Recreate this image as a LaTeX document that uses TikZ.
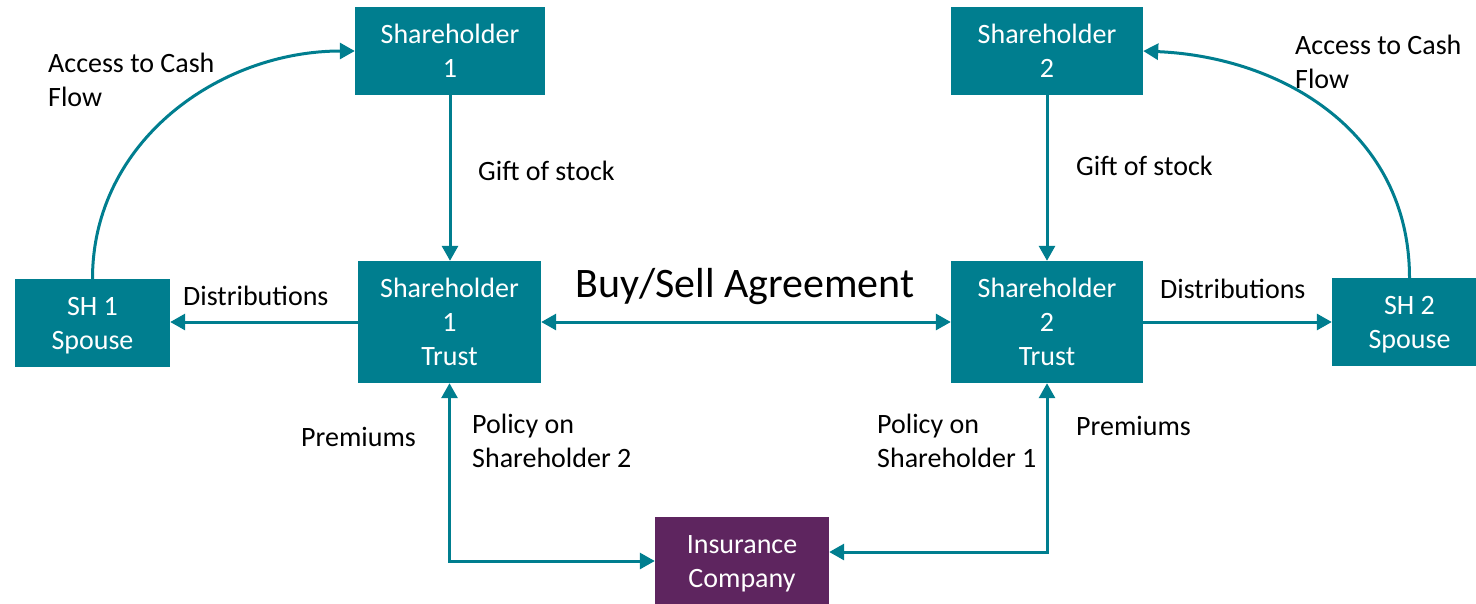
\documentclass[tikz,border=0pt]{standalone}
\usepackage{fontspec}
\setmainfont{Carlito}
\usetikzlibrary{arrows.meta}
\definecolor{tealbox}{RGB}{0,126,143}
\definecolor{plumbox}{RGB}{94,37,95}
% even line box for the text inside the boxes
\newcommand\boxstrut{\rule[-5pt]{0pt}{29pt}}
\begin{document}
\begin{tikzpicture}[x=1pt,y=-1pt,
  boxnode/.style={fill=tealbox, text=white, inner sep=0pt, align=center,
    font=\fontsize{28}{34}\selectfont},
  lbl/.style={anchor=base west, inner sep=0pt, text=black,
    font=\fontsize{28}{34}\selectfont},
  link/.style={draw=tealbox, line width=3pt,
    -{Triangle[length=15pt,width=16pt]}},
  dlink/.style={draw=tealbox, line width=3pt,
    {Triangle[length=15pt,width=16pt]}-{Triangle[length=15pt,width=16pt]}}]
\useasboundingbox (0,0) rectangle (1476,603);
\clip (0,0) rectangle (1476,603);

% boxes
\node[boxnode, minimum width=190pt, minimum height=88pt] (sh1) at (450,51)
  {\boxstrut Shareholder\\\boxstrut 1};
\node[boxnode, minimum width=192pt, minimum height=88pt] (sh2) at (1047,51)
  {\boxstrut Shareholder\\\boxstrut 2};
\node[boxnode, minimum width=155pt, minimum height=88pt] (sp1) at (92.5,323)
  {\boxstrut SH 1\\\boxstrut Spouse};
\node[boxnode, minimum width=183pt, minimum height=122pt] (t1) at (449.5,322)
  {\boxstrut Shareholder\\\boxstrut 1\\\boxstrut Trust};
\node[boxnode, minimum width=192pt, minimum height=122pt] (t2) at (1047,322)
  {\boxstrut Shareholder\\\boxstrut 2\\\boxstrut Trust};
\node[boxnode, minimum width=155pt, minimum height=88pt] (sp2) at (1409.5,322)
  {\boxstrut SH 2\\\boxstrut Spouse};
\node[boxnode, fill=plumbox, minimum width=174pt, minimum height=88pt] (ins) at (742,561)
  {\boxstrut Insurance\\\boxstrut Company};

% connectors
\draw[link] (sh1.south) -- (sh1.south |- t1.north);
\draw[link] (sh2.south) -- (sh2.south |- t2.north);
\draw[link] (t1.west) -- (t1.west -| sp1.east);
\draw[link] (t2.east) -- (t2.east -| sp2.west);
\draw[dlink] (t1.east) -- (t2.west);
\draw[link] (sp1.north) .. controls +(0,-138) and +(-135,0) .. (sh1.west);
\draw[link] (sp2.north) .. controls +(0,-145) and +(140,6) .. (sh2.east);
\draw[dlink] (t1.south) |- (ins.west);
\draw[dlink] (t2.south) |- ([yshift=9pt]ins.east);

% labels
\node[lbl] (accL) at (48,72) {\begin{tabular}[t]{@{}l@{}}Access to Cash\\Flow\end{tabular}};
\node[lbl] (accR) at (1295,54) {\begin{tabular}[t]{@{}l@{}}Access to Cash\\Flow\end{tabular}};
\node[lbl] (giftL) at (478,180) {Gift of stock};
\node[lbl] (giftR) at (1076,175) {Gift of stock};
\node[lbl] (distL) at (183,305) {Distributions};
\node[lbl] (distR) at (1160,298) {Distributions};
\node[lbl, font=\fontsize{42}{50}\selectfont] (bs) at (575,297) {Buy/Sell Agreement};
\node[lbl] (premL) at (301,446) {Premiums};
\node[lbl] (polL) at (472,433) {\begin{tabular}[t]{@{}l@{}}Policy on\\Shareholder 2\end{tabular}};
\node[lbl] (polR) at (877,433) {\begin{tabular}[t]{@{}l@{}}Policy on\\Shareholder 1\end{tabular}};
\node[lbl] (premR) at (1076,435) {Premiums};
\end{tikzpicture}
\end{document}
